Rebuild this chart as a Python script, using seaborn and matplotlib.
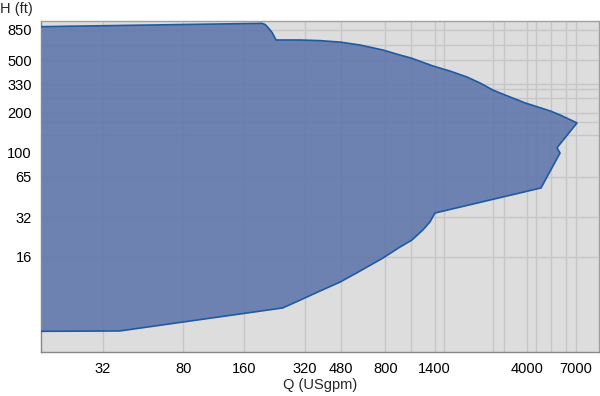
import matplotlib
matplotlib.use("Agg")
import matplotlib.pyplot as plt
import seaborn as sns
import pandas as pd
import numpy as np

# boundary of the operating range (clockwise from top-left)
q_usgpm = [15, 196, 203, 210, 220, 226, 230, 302, 379, 477, 599, 778, 943,
           1071, 1377, 1668, 2025, 2350, 2722, 2951, 3309, 3930, 5224, 5850,
           7100, 5650, 5850, 4710, 1407, 1328, 1227, 1082, 943, 778, 599,
           477, 379, 302, 248, 38.8, 15]
h_ft = [899, 954, 935, 887, 812, 751, 713, 713, 705, 687, 653, 598, 548,
        520, 452, 414, 373, 336, 297, 282, 263, 237, 206, 192,
        167, 108, 98.6, 53.5, 34.5, 29.5, 25.7, 21.5, 19.0, 15.7, 12.5,
        10.3, 8.8, 7.5, 6.55, 4.38, 4.35]

x_ticks = [32, 80, 160, 320, 480, 800, 1400, 4000, 7000]
y_ticks = [16, 32, 65, 100, 200, 330, 500, 850]
x_grid = [32, 80, 160, 320, 480, 800, 1070, 1400, 1560, 2720, 3090, 4000,
          4450, 5280, 6260, 7000]
y_grid = [16, 32, 65, 135, 170, 200, 260, 300, 330, 500, 650, 850]

df = pd.DataFrame({'Q': q_usgpm, 'H': h_ft})

sns.set_style("whitegrid", {'axes.facecolor': '#dddddd',
                            'axes.edgecolor': '#999999',
                            'grid.color': '#c6c6c6'})
plt.rcParams['font.family'] = ['Liberation Sans', 'DejaVu Sans']

fig = plt.figure(figsize=(6, 3.96), dpi=100)
ax = fig.add_axes([41 / 600, 1 - 352 / 396, 558 / 600, 331 / 396])

ax.set_xscale('log')
ax.set_yscale('log')
ax.set_xlim(15.8, 9120)
ax.set_ylim(3.03, 994)

ax.fill(df['Q'], df['H'], color='#5b72ab', alpha=0.85, lw=0, zorder=2)
sns.lineplot(data=df, x='Q', y='H', sort=False, estimator=None,
             color='#1f5aa0', lw=1.2, ax=ax, zorder=3)

ax.xaxis.remove_overlapping_locs = False
ax.yaxis.remove_overlapping_locs = False
ax.set_xticks(x_ticks)
ax.set_xticks(x_grid, minor=True)
ax.set_yticks(y_ticks)
ax.set_yticks(y_grid, minor=True)
ax.set_xticklabels([str(v) for v in x_ticks])
ax.set_yticklabels([str(v) for v in y_ticks])
ax.grid(False, which='major')
ax.grid(True, which='minor', color='#c6c6c6', lw=1.0)
ax.set_axisbelow(True)
ax.tick_params(which='both', length=0)
ax.tick_params(axis='x', pad=7, labelsize=10.5, colors='black')
ax.tick_params(axis='y', pad=6.5, labelsize=10.5, colors='black')
ax.xaxis.set_minor_formatter(matplotlib.ticker.NullFormatter())
ax.yaxis.set_minor_formatter(matplotlib.ticker.NullFormatter())

for s in ax.spines.values():
    s.set_color('#a0a0a0')
    s.set_linewidth(1.0)
ax.spines['left'].set_color('#888888')
ax.spines['bottom'].set_color('#888888')

ax.set_xlabel('Q (USgpm)', fontsize=10.5, labelpad=1.5)
ax.set_ylabel('')
fig.text(0.0, 1 - 9 / 396, 'H (ft)', fontsize=10.5, va='center', ha='left')

fig.savefig('out.png', dpi=100)
